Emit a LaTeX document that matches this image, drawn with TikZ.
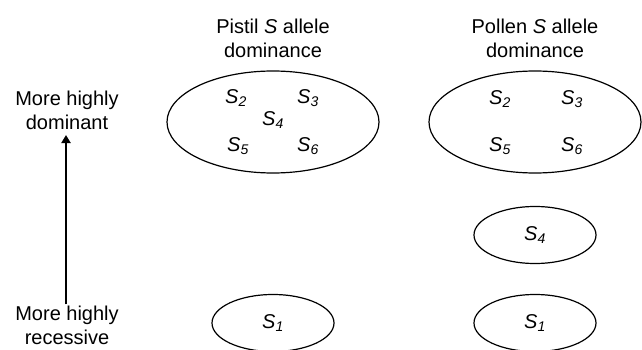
\documentclass[tikz,border=0pt]{standalone}
\usepackage{fontspec}
\setmainfont{Liberation Sans}
\usetikzlibrary{shapes.geometric,arrows.meta}
\newcommand{\allele}[1]{{\itshape S\textsubscript{\itshape #1}}}
\tikzset{
  lbl/.style={font=\fontsize{20}{24}\selectfont, align=center, inner sep=0pt},
  sym/.style={font=\fontsize{20}{24}\selectfont, inner sep=0pt},
  group/.style={draw, ellipse, line width=1.2pt, inner sep=0pt,
                font=\fontsize{20}{24}\selectfont},
  big/.style={group, minimum width=212pt, minimum height=102pt},
  small/.style={group, minimum width=122pt, minimum height=57pt},
  axis/.style={line width=2.4pt, -{Triangle[length=8pt,width=9pt]}}
}
\begin{document}
\begin{tikzpicture}[x=1pt,y=-1pt]
\useasboundingbox (0,0) rectangle (642,350);

% column headings
\node[lbl] (pistilhead) at (273,38) {Pistil \textit{S} allele\\dominance};
\node[lbl] (pollenhead) at (535,38) {Pollen \textit{S} allele\\dominance};

% dominance axis
\node[lbl] (dom) at (67,110) {More highly\\dominant};
\node[lbl] (rec) at (67,325) {More highly\\recessive};
\draw[axis] (rec.north) ++(-1,-1) coordinate (axstart) -- (66,135) coordinate (axend);

% pistil side
\node[big] (pistilgroup) at (273,122) {};
\node[sym] (p2) at (236,98) {\allele{2}};
\node[sym] (p3) at (308,98) {\allele{3}};
\node[sym] (p4) at (273,120) {\allele{4}};
\node[sym] (p5) at (238,146) {\allele{5}};
\node[sym] (p6) at (308,146) {\allele{6}};
\node[small] (pistilrec) at (273,323) {\allele{1}};

% pollen side
\node[big] (pollengroup) at (535,122) {};
\node[sym] (q2) at (500,99) {\allele{2}};
\node[sym] (q3) at (572,99) {\allele{3}};
\node[sym] (q5) at (500,146) {\allele{5}};
\node[sym] (q6) at (572,146) {\allele{6}};
\node[small] (pollenmid) at (535,235) {\allele{4}};
\node[small] (pollenrec) at (535,323) {\allele{1}};
\end{tikzpicture}
\end{document}
